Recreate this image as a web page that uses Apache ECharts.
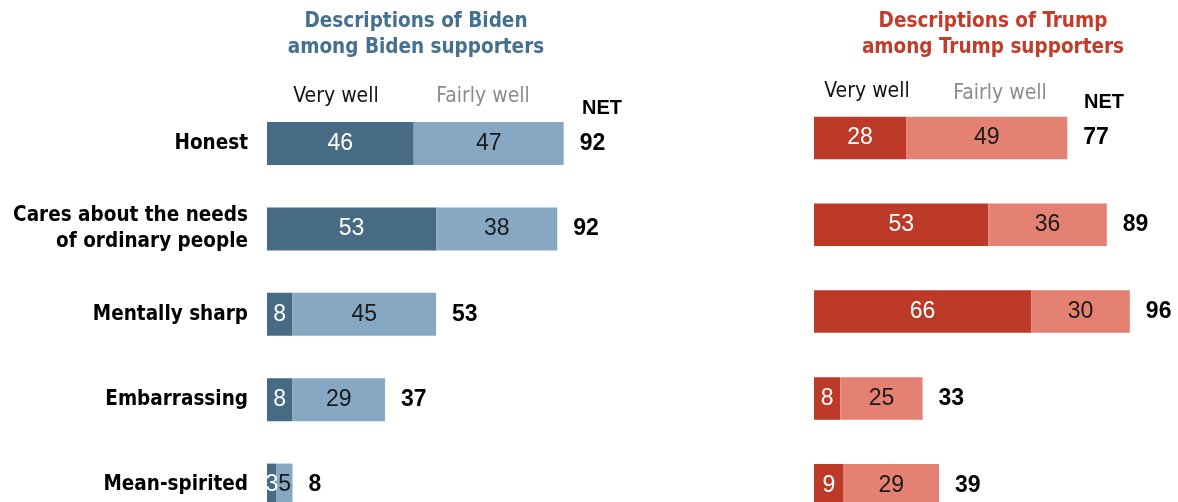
<!DOCTYPE html>
<html>
<head>
<meta charset="utf-8">
<script src="https://cdn.jsdelivr.net/npm/echarts@6/dist/echarts.min.js"></script>
<style>
  html, body { margin: 0; padding: 0; background: #fff; overflow: hidden; }
  /* the last row runs past the bottom edge of the window */
  #chart { width: 1178px; height: 540px; }
</style>
</head>
<body>
<div id="chart"></div>
<script>
// Traits, top to bottom
const traits = [
  'Honest',
  'Cares about the needs\nof ordinary people',
  'Mentally sharp',
  'Embarrassing',
  'Mean-spirited'
];

// Biden supporters describing Biden (%)
const bidenVeryWell = [46, 53, 8, 8, 3];
const bidenFairlyWell = [47, 38, 45, 29, 5];
const bidenNet = [92, 92, 53, 37, 8];

// Trump supporters describing Trump (%)
const trumpVeryWell = [28, 53, 66, 8, 9];
const trumpFairlyWell = [49, 36, 30, 25, 29];
const trumpNet = [77, 89, 96, 33, 39];

const BIDEN_DARK = '#476a85';
const BIDEN_LIGHT = '#87a8c2';
const TRUMP_DARK = '#bd3a28';
const TRUMP_LIGHT = '#e48173';
const BIDEN_TITLE = '#46708f';
const TRUMP_TITLE = '#c53b29';

const CONDENSED = '"DejaVu Sans Condensed", "Liberation Sans Narrow", sans-serif';
const SANS = '"Liberation Sans", Arial, sans-serif';

const chart = echarts.init(document.getElementById('chart'), null, { renderer: 'canvas' });

function valueLabel(color) {
  return {
    show: true,
    position: 'inside',
    color: color,
    fontFamily: SANS,
    fontSize: 23,
    fontWeight: 'normal'
  };
}

function netLabel(netValues) {
  return {
    show: true,
    position: 'right',
    distance: 16,
    color: '#000',
    fontFamily: SANS,
    fontSize: 23,
    fontWeight: 'bold',
    formatter: p => String(netValues[p.dataIndex])
  };
}

function headerText(text, x, y, color, align, font) {
  return {
    type: 'text',
    style: {
      text: text,
      x: x,
      y: y,
      fill: color,
      align: align,
      verticalAlign: 'middle',
      font: font
    }
  };
}

const option = {
  animation: false,
  backgroundColor: '#ffffff',
  grid: [
    { left: 267, top: 100.8, width: 319, height: 427 },
    { left: 814, top: 94.6, width: 329, height: 434 }
  ],
  xAxis: [
    { gridIndex: 0, type: 'value', min: 0, max: 100, show: false },
    { gridIndex: 1, type: 'value', min: 0, max: 100, show: false }
  ],
  yAxis: [
    {
      gridIndex: 0,
      type: 'category',
      data: traits,
      inverse: true,
      axisLine: { show: false },
      axisTick: { show: false },
      splitLine: { show: false },
      axisLabel: {
        margin: 19,
        align: 'right',
        color: '#000',
        fontFamily: CONDENSED,
        fontWeight: 'bold',
        fontSize: 20.5,
        lineHeight: 26,
        padding: [4, 0, 0, 0]
      }
    },
    {
      gridIndex: 1,
      type: 'category',
      data: traits,
      inverse: true,
      show: false
    }
  ],
  series: [
    {
      name: 'Very well',
      type: 'bar',
      xAxisIndex: 0,
      yAxisIndex: 0,
      stack: 'biden',
      barWidth: 43,
      data: bidenVeryWell,
      itemStyle: { color: BIDEN_DARK },
      label: valueLabel('#ffffff')
    },
    {
      name: 'Fairly well',
      type: 'bar',
      xAxisIndex: 0,
      yAxisIndex: 0,
      stack: 'biden',
      barWidth: 43,
      data: bidenFairlyWell,
      itemStyle: { color: BIDEN_LIGHT },
      label: valueLabel('#1a1a1a')
    },
    {
      name: 'NET',
      type: 'bar',
      xAxisIndex: 0,
      yAxisIndex: 0,
      stack: 'biden',
      barWidth: 43,
      data: bidenNet.map(() => 0),
      itemStyle: { color: 'transparent' },
      label: netLabel(bidenNet),
      silent: true
    },
    {
      name: 'Very well',
      type: 'bar',
      xAxisIndex: 1,
      yAxisIndex: 1,
      stack: 'trump',
      barWidth: 42.5,
      data: trumpVeryWell,
      itemStyle: { color: TRUMP_DARK },
      label: valueLabel('#ffffff')
    },
    {
      name: 'Fairly well',
      type: 'bar',
      xAxisIndex: 1,
      yAxisIndex: 1,
      stack: 'trump',
      barWidth: 42.5,
      data: trumpFairlyWell,
      itemStyle: { color: TRUMP_LIGHT },
      label: valueLabel('#1a1a1a')
    },
    {
      name: 'NET',
      type: 'bar',
      xAxisIndex: 1,
      yAxisIndex: 1,
      stack: 'trump',
      barWidth: 42.5,
      data: trumpNet.map(() => 0),
      itemStyle: { color: 'transparent' },
      label: netLabel(trumpNet),
      silent: true
    }
  ],
  graphic: [
    headerText('Descriptions of Biden', 416, 22, BIDEN_TITLE, 'center', 'bold 20.5px ' + CONDENSED),
    headerText('among Biden supporters', 416, 48, BIDEN_TITLE, 'center', 'bold 20.5px ' + CONDENSED),
    headerText('Descriptions of Trump', 993, 22, TRUMP_TITLE, 'center', 'bold 20.5px ' + CONDENSED),
    headerText('among Trump supporters', 993, 48, TRUMP_TITLE, 'center', 'bold 20.5px ' + CONDENSED),

    headerText('Very well', 336, 97, '#111', 'center', '21px ' + CONDENSED),
    headerText('Fairly well', 483, 97, '#8c8c8c', 'center', '21px ' + CONDENSED),
    headerText('NET', 582, 108, '#000', 'left', 'bold 20px ' + SANS),

    headerText('Very well', 867, 92, '#111', 'center', '21px ' + CONDENSED),
    headerText('Fairly well', 1000, 94, '#8c8c8c', 'center', '21px ' + CONDENSED),
    headerText('NET', 1084, 102, '#000', 'left', 'bold 20px ' + SANS)
  ]
};

chart.setOption(option);
</script>
</body>
</html>
